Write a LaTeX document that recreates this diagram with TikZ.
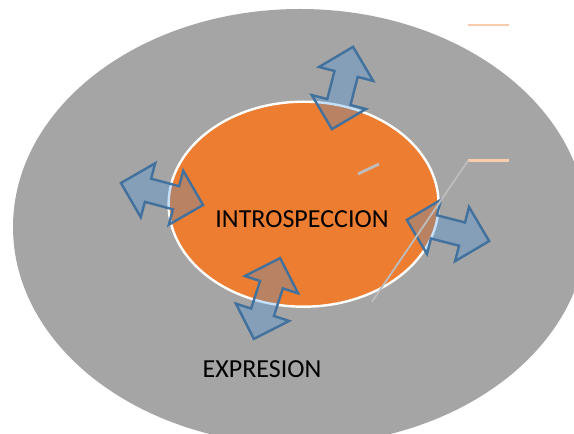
\documentclass[tikz,border=0pt]{standalone}
\usepackage{fontspec}
\setmainfont{Carlito}
\usetikzlibrary{positioning}
\definecolor{ringgray}{HTML}{A5A5A5}
\definecolor{coreorange}{HTML}{ED7D31}
\definecolor{arrowline}{HTML}{41719C}
\definecolor{arrowfill}{RGB}{44,146,235}
\definecolor{salmon}{HTML}{F8CBAD}
\definecolor{leadgray}{HTML}{BDBDBD}
\begin{document}
\begin{tikzpicture}[x=1pt, y=1pt,
    font=\fontsize{26}{30}\selectfont,
    ring/.style={fill=ringgray},
    core/.style={fill=coreorange, draw=white, line width=2.4pt},
    arrowbox/.style={draw=arrowline, line width=2.4pt, line join=miter,
                     fill=arrowfill, fill opacity=0.27},
    lab/.style={anchor=base, inner sep=0pt},
    tick/.style={salmon, line width=2.6pt},
    lead/.style={leadgray, line width=1.8pt},
    twoway/.pic={\draw[arrowbox] (-42.5,0) -- (-14.5,28) -- (-14.5,12) -- (14.5,12)
                 -- (14.5,28) -- (42.5,0) -- (14.5,-28) -- (14.5,-12)
                 -- (-14.5,-12) -- (-14.5,-28) -- cycle;}]
  \useasboundingbox (0,0) rectangle (574,434);
  \fill[white] (0,0) rectangle (574,434);
  % the two ellipses
  \fill[ring] (300,207) ellipse [x radius=287, y radius=218];
  \draw[core] (303.6,229.8) ellipse [x radius=135, y radius=102.5];
  % arrows across the border
  \pic[rotate=75.6] (up) at (342.5,346) {twoway};
  \pic[rotate=-15] (left) at (162,240) {twoway};
  \pic[rotate=72] (down) at (267,135.5) {twoway};
  \pic[rotate=-14.4] (right) at (448,203.5) {twoway};
  \node[lab] (intro) at (302,206.7) {INTROSPECCION};
  \node[lab] (expr) at (262,56.7) {EXPRESION};
  % stray marks
  \coordinate (tagA) at (468,409);
  \coordinate (tagB) at (468,273.3);
  \coordinate (foot) at (372,132.3);
  \coordinate (dashA) at (358,260);
  \coordinate (dashB) at (379,270);
  \draw[tick] (tagA) -- ++(41,0);
  \draw[tick] (tagB) -- ++(41,0);
  \draw[lead] (tagB) -- (foot);
  \draw[leadgray, line width=2.8pt] (dashA) -- (dashB);
\end{tikzpicture}
\end{document}
